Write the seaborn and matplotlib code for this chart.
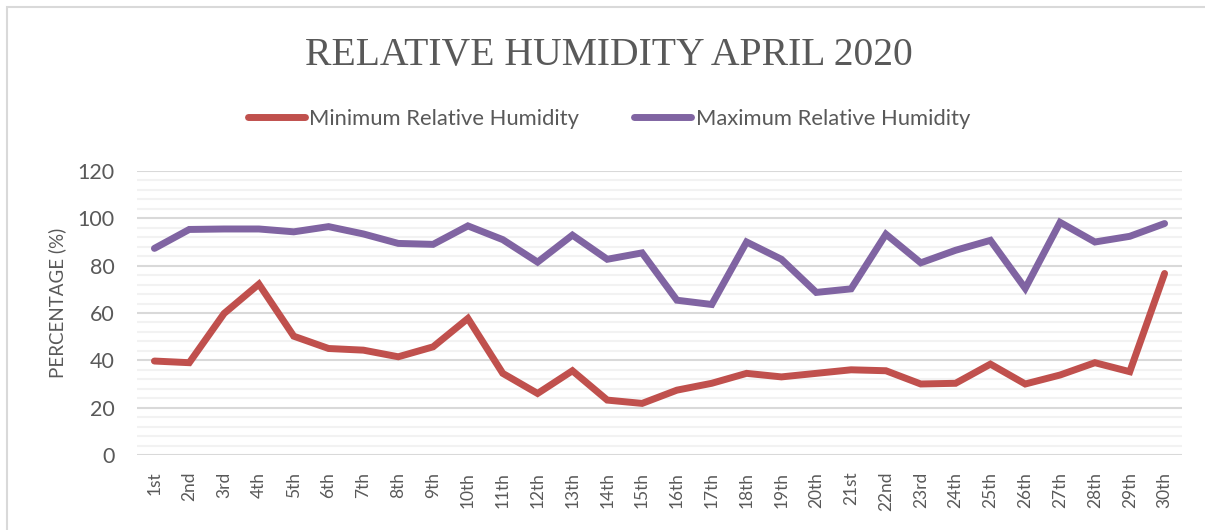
import matplotlib
matplotlib.use("Agg")
import matplotlib.pyplot as plt
import seaborn as sns
import pandas as pd
from matplotlib.patches import Rectangle
from matplotlib.lines import Line2D

days = ["1st", "2nd", "3rd", "4th", "5th", "6th", "7th", "8th", "9th", "10th",
        "11th", "12th", "13th", "14th", "15th", "16th", "17th", "18th", "19th", "20th",
        "21st", "22nd", "23rd", "24th", "25th", "26th", "27th", "28th", "29th", "30th"]
min_rh = [39.7, 39.0, 59.8, 72.2, 50.2, 45.0, 44.3, 41.5, 45.7, 57.7,
          34.5, 26.0, 35.6, 23.2, 21.8, 27.4, 30.3, 34.5, 33.0, 34.5,
          36.0, 35.6, 30.0, 30.3, 38.4, 30.0, 33.8, 39.0, 35.2, 76.7]
max_rh = [87.3, 95.3, 95.5, 95.5, 94.3, 96.5, 93.4, 89.4, 89.0, 96.8,
          91.0, 81.5, 92.9, 82.7, 85.4, 65.4, 63.6, 90.0, 82.7, 68.7,
          70.2, 93.3, 81.2, 86.5, 90.7, 70.4, 98.3, 90.0, 92.4, 97.8]
series_names = ["Minimum Relative Humidity", "Maximum Relative Humidity"]
colors = ["#C0504D", "#8064A2"]
title = "RELATIVE HUMIDITY APRIL 2020"
ylabel = "PERCENTAGE (%)"
yticks = [0, 20, 40, 60, 80, 100, 120]

sns.set_theme(style="white")
plt.rcParams["font.family"] = ["Lato", "DejaVu Sans"]

df = pd.DataFrame({
    "day": list(range(len(days))) * 2,
    "value": min_rh + max_rh,
    "series": [series_names[0]] * len(days) + [series_names[1]] * len(days),
})

fig = plt.figure(figsize=(12.05, 5.3), dpi=100)
ax = fig.add_axes([137 / 1205, 1 - 455 / 530, (1182 - 137) / 1205, (455 - 171) / 530])

# gridlines
for v in range(0, 121, 4):
    if v % 20 == 0:
        ax.axhline(v, color="#D9D9D9", lw=1.5, zorder=1)
    else:
        ax.axhline(v, color="#F2F2F2", lw=1.5, zorder=1)

sns.lineplot(data=df, x="day", y="value", hue="series", palette=colors,
             linewidth=5, ax=ax, legend=False, zorder=3)
for ln in ax.lines[-2:]:
    ln.set_solid_capstyle("round")
    ln.set_solid_joinstyle("miter")

ax.set_xlim(-0.5, len(days) - 0.5)
ax.set_ylim(0, 120)
ax.set_xticks(range(len(days)))
ax.set_xticklabels(days, rotation=90, fontsize=12.5, color="#595959")
ax.set_yticks(yticks)
ax.set_yticklabels([str(t) for t in yticks], fontsize=15.5, color="#595959")
ax.tick_params(axis="y", length=0, pad=16)
ax.tick_params(axis="x", length=0, pad=12)
ax.set_xlabel("")
ax.set_ylabel(ylabel, fontsize=13.5, color="#595959")
ax.yaxis.set_label_coords(-0.068, 0.535)
for s in ax.spines.values():
    s.set_visible(False)

fig.text(609 / 1205, 1 - 56 / 530, title, ha="center", va="center",
         fontsize=28.5, color="#595959", family=["Liberation Serif", "DejaVu Serif"])

handles = [Line2D([0], [0], color=c, lw=5, solid_capstyle="round") for c in colors]
fig.legend(handles, series_names, loc="center", bbox_to_anchor=(609 / 1205, 1 - 119 / 530),
           ncol=2, frameon=False, fontsize=15.8, handlelength=2.6, handletextpad=0.2,
           columnspacing=2.5, labelcolor="#595959")

fig.patches.append(Rectangle((7 / 1205, -0.1), 1.2, 1 - 7 / 530 + 0.1, transform=fig.transFigure,
                             fill=False, edgecolor="#D9D9D9", lw=1.5))

fig.savefig("out.png", dpi=100)
